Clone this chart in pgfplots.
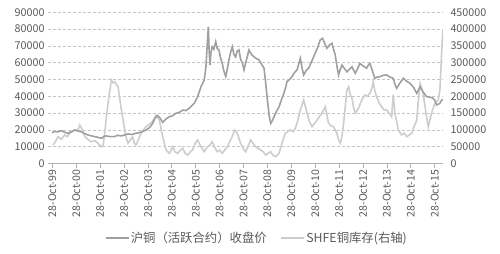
\documentclass[border=0pt]{standalone}
\usepackage{pgfplots}
\pgfplotsset{compat=1.18}
\usepackage{fontspec}
\setmainfont{Carlito}
\newfontfamily\cjk{Noto Sans CJK SC}
\definecolor{pricecol}{HTML}{A0A0A0}
\definecolor{invcol}{HTML}{CDCDCD}
\definecolor{labcol}{HTML}{595959}
\begin{document}
\begin{tikzpicture}
\useasboundingbox (-48bp,-90.5bp) rectangle (452bp,163.5bp);
% right axis: inventory
\begin{axis}[
  at={(0,0)}, anchor=south west,
  scale only axis, width=395bp, height=151.2bp,
  xmin=1999.64, xmax=2016.17,
  ymin=0, ymax=450000,
  axis y line*=right, axis x line*=bottom,
  y axis line style={draw=none},
  x axis line style={draw=gray!60, line width=0.6bp},
  ytick={0,50000,...,450000},
  ymajorgrids, grid style={densely dashed, gray!45, line width=0.5bp},
  xtick={1999.82,2000.82,2001.82,2002.82,2003.82,2004.82,2005.82,2006.82,2007.82,2008.82,2009.82,2010.82,2011.82,2012.82,2013.82,2014.82,2015.82},
  xticklabels={28-Oct-99,28-Oct-00,28-Oct-01,28-Oct-02,28-Oct-03,28-Oct-04,28-Oct-05,28-Oct-06,28-Oct-07,28-Oct-08,28-Oct-09,28-Oct-10,28-Oct-11,28-Oct-12,28-Oct-13,28-Oct-14,28-Oct-15},
  xticklabel style={rotate=90, anchor=east, font=\cjk\fontsize{10.6}{12}\selectfont, text=labcol, inner xsep=2bp},
  yticklabel style={font=\cjk\fontsize{10.8}{12}\selectfont, text=labcol},
  /pgf/number format/assume math mode=true,
  scaled y ticks=false, yticklabel={\pgfmathprintnumber[fixed,1000 sep={}]{\tick}},
  tick align=outside, major tick length=4bp,
  ytick style={draw=none},
  xtick style={draw=gray!60, line width=0.6bp},
]
\addplot[invcol, line width=1.6bp] coordinates {
(1999.85,55000)(1999.95,65000)(2000.06,79800)(2000.20,72000)(2000.34,84800)(2000.45,80000)(2000.55,89900)(2000.76,99700)(2000.90,100000)(2000.97,114600)(2001.05,105000)(2001.18,79800)(2001.30,72000)(2001.45,64900)(2001.60,68000)(2001.73,60100)(2001.87,50000)(2001.95,55000)(2002.01,89900)(2002.15,179000)(2002.29,248500)(2002.36,240000)(2002.43,243500)(2002.50,235000)(2002.57,228600)(2002.71,159200)(2002.85,99700)(2002.92,75000)(2002.99,60100)(2003.10,72000)(2003.18,79800)(2003.25,60000)(2003.32,55000)(2003.42,70000)(2003.53,89900)(2003.64,100000)(2003.74,109500)(2003.85,115000)(2003.95,119600)(2004.05,130000)(2004.16,144300)(2004.30,129500)(2004.44,79800)(2004.58,40200)(2004.65,35000)(2004.72,30400)(2004.80,42000)(2004.86,50000)(2004.95,35000)(2005.07,30400)(2005.18,40000)(2005.28,45200)(2005.38,30000)(2005.49,25300)(2005.60,35000)(2005.69,40200)(2005.80,60000)(2005.90,70000)(2006.04,50000)(2006.18,35100)(2006.31,50000)(2006.42,55000)(2006.51,64900)(2006.60,50000)(2006.72,35100)(2006.82,40000)(2006.93,30400)(2007.14,50000)(2007.35,79800)(2007.45,99700)(2007.56,89900)(2007.70,60100)(2007.80,45000)(2007.91,35100)(2008.00,50000)(2008.12,69900)(2008.22,60000)(2008.33,50000)(2008.54,40200)(2008.65,35000)(2008.75,25300)(2008.85,30000)(2008.96,35100)(2009.05,25000)(2009.17,20200)(2009.31,30400)(2009.43,60100)(2009.57,89900)(2009.68,95000)(2009.78,99700)(2009.90,95000)(2009.99,104500)(2010.10,130000)(2010.20,159200)(2010.34,189000)(2010.48,149400)(2010.58,125000)(2010.69,109500)(2010.80,120000)(2010.90,129500)(2011.00,140000)(2011.10,149400)(2011.24,169000)(2011.38,119600)(2011.48,112000)(2011.59,109500)(2011.73,89900)(2011.80,70000)(2011.87,60100)(2011.94,80000)(2012.01,119600)(2012.08,170000)(2012.15,218800)(2012.22,228000)(2012.29,205000)(2012.36,195000)(2012.43,165000)(2012.50,150000)(2012.64,165000)(2012.72,180000)(2012.78,190000)(2012.90,203800)(2013.00,200000)(2013.11,208900)(2013.20,225000)(2013.25,243500)(2013.32,215000)(2013.39,198800)(2013.50,180000)(2013.60,169000)(2013.70,160000)(2013.81,159200)(2013.92,150000)(2014.02,139300)(2014.09,205000)(2014.16,149400)(2014.30,99700)(2014.44,84800)(2014.55,90000)(2014.65,79800)(2014.76,85000)(2014.86,89900)(2014.96,110000)(2015.07,129500)(2015.14,190000)(2015.21,238600)(2015.34,208900)(2015.48,139300)(2015.55,109500)(2015.69,149400)(2015.83,179000)(2015.97,189000)(2016.04,218800)(2016.12,340000)(2016.16,397000)
};
\end{axis}
% left axis: price
\begin{axis}[
  at={(0,0)}, anchor=south west,
  scale only axis, width=395bp, height=151.2bp,
  xmin=1999.64, xmax=2016.17,
  ymin=0, ymax=90000,
  axis y line*=left, axis x line=none,
  y axis line style={draw=none},
  ytick={0,10000,...,90000}, xtick=\empty,
  yticklabel style={font=\cjk\fontsize{10.8}{12}\selectfont, text=labcol},
  /pgf/number format/assume math mode=true,
  scaled y ticks=false, yticklabel={\pgfmathprintnumber[fixed,1000 sep={}]{\tick}},
  ytick style={draw=none},
  legend columns=2,
  legend cell align=left,
  legend image code/.code={\draw[#1] (0bp,0bp) -- (23bp,0bp);},
  legend style={at={(0.528,-0.493)}, anchor=center, draw=none, fill=none,
    font=\cjk\fontsize{12.4}{14}\selectfont, text=labcol,
    nodes={inner xsep=1.5bp, inner ysep=1bp},
    /tikz/every even column/.append style={column sep=12bp},
    inner sep=0pt},
]
\addplot[pricecol, line width=1.6bp] coordinates {
(1999.81,18300)(1999.90,19000)(2000.06,18900)(2000.20,19500)(2000.35,18500)(2000.48,18000)(2000.62,19000)(2000.76,19900)(2000.90,19300)(2001.03,18900)(2001.15,18000)(2001.31,17000)(2001.45,16500)(2001.59,16000)(2001.75,15500)(2001.87,15000)(2002.00,16200)(2002.08,16400)(2002.25,16000)(2002.43,16000)(2002.55,16800)(2002.71,16400)(2002.85,17000)(2002.99,17600)(2003.15,17300)(2003.32,18000)(2003.50,18500)(2003.74,19900)(2003.90,21500)(2004.02,23900)(2004.12,27000)(2004.23,28500)(2004.33,27000)(2004.44,24500)(2004.58,26500)(2004.72,27900)(2004.86,28500)(2005.00,29900)(2005.14,30500)(2005.28,31800)(2005.42,31500)(2005.55,32900)(2005.66,34500)(2005.76,35800)(2005.90,39800)(2005.98,43000)(2006.04,45700)(2006.12,48000)(2006.18,49700)(2006.25,57600)(2006.30,70000)(2006.35,81400)(2006.38,68000)(2006.42,58600)(2006.46,66000)(2006.51,69500)(2006.58,68000)(2006.66,72500)(2006.72,68500)(2006.79,67600)(2006.86,63000)(2006.93,59600)(2007.00,55000)(2007.08,51700)(2007.14,56000)(2007.21,61600)(2007.28,66000)(2007.35,69500)(2007.42,65000)(2007.49,63500)(2007.56,67000)(2007.63,67600)(2007.70,62000)(2007.77,60000)(2007.84,55700)(2007.95,62000)(2008.05,67600)(2008.15,65000)(2008.26,63500)(2008.36,62500)(2008.47,61600)(2008.58,59000)(2008.68,56700)(2008.75,48000)(2008.82,37800)(2008.90,28000)(2008.96,23900)(2009.03,25500)(2009.10,27900)(2009.20,31000)(2009.31,33800)(2009.41,38000)(2009.51,41800)(2009.58,45000)(2009.64,48700)(2009.75,50000)(2009.85,51700)(2009.95,54000)(2010.06,55700)(2010.13,59000)(2010.20,62600)(2010.27,57000)(2010.34,52700)(2010.45,55500)(2010.55,56700)(2010.68,61000)(2010.82,65600)(2010.92,69000)(2011.03,73500)(2011.13,74500)(2011.22,71500)(2011.31,68600)(2011.42,70500)(2011.52,71500)(2011.59,68000)(2011.66,64600)(2011.73,58000)(2011.80,52700)(2011.87,56000)(2011.94,58600)(2012.05,56500)(2012.15,54600)(2012.25,56000)(2012.36,57600)(2012.43,55500)(2012.50,53700)(2012.60,56500)(2012.69,59600)(2012.83,58000)(2012.97,56700)(2013.04,58500)(2013.11,59600)(2013.22,55000)(2013.32,50700)(2013.42,51500)(2013.53,51700)(2013.67,52500)(2013.81,52700)(2013.95,51500)(2014.09,50700)(2014.16,47000)(2014.23,44800)(2014.37,48000)(2014.51,50700)(2014.65,49000)(2014.79,47700)(2014.93,45500)(2015.07,41800)(2015.14,43500)(2015.21,45700)(2015.34,42500)(2015.48,39800)(2015.62,39500)(2015.76,38800)(2015.83,37500)(2015.90,34800)(2016.04,35800)(2016.10,37500)(2016.16,38200)
};
\addlegendentry{沪铜（活跃合约）收盘价}
\addlegendimage{invcol, line width=1.6bp}
\addlegendentry{SHFE铜库存(右轴)}
\end{axis}
\end{tikzpicture}
\end{document}
